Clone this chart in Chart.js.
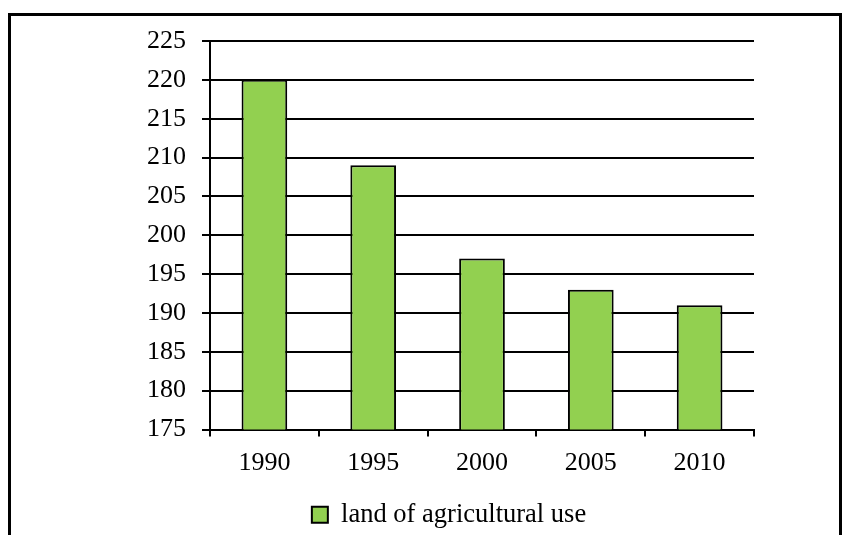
<!DOCTYPE html>
<html>
<head>
<meta charset="utf-8">
<script src="https://cdn.jsdelivr.net/npm/chart.js@4"></script>
<style>
  html, body { margin: 0; padding: 0; background: #fff; }
  #frame { position: absolute; left: 8px; top: 13px; width: 828px; height: 600px; border: 3px solid #000; }
  #wrap { position: absolute; left: 0; top: 0; width: 842px; height: 535px; }
</style>
</head>
<body>
<div id="frame"></div>
<div id="wrap"><canvas id="grafica"></canvas></div>
<script>
const years = ['1990', '1995', '2000', '2005', '2010'];
const landUse = [220, 209, 197, 193, 191];
const seriesName = 'land of agricultural use';

const fuente = { family: 'Liberation Serif, DejaVu Serif', size: 26 };
const fuenteLeyenda = { family: 'Liberation Serif, DejaVu Serif', size: 26.5 };

new Chart(document.getElementById('grafica').getContext('2d'), {
    type: 'bar',
    data: {
        labels: years,
        datasets: [{
            label: seriesName,
            data: landUse,
            backgroundColor: '#92D050',
            borderColor: '#000',
            borderWidth: 2,
            borderSkipped: false,
            barPercentage: 0.42,
            categoryPercentage: 1
        }]
    },
    options: {
        responsive: true,
        maintainAspectRatio: false,
        animation: false,
        layout: { padding: { left: 144, right: 88, top: 41, bottom: -3 } },
        plugins: {
            tooltip: { enabled: false },
            legend: {
                position: 'bottom',
                labels: { font: fuenteLeyenda, color: '#000', boxWidth: 16, boxHeight: 16, padding: 12 }
            }
        },
        scales: {
            x: {
                offset: true,
                grid: { offset: true, drawOnChartArea: false, drawTicks: true, tickLength: 7, color: '#000', lineWidth: 2 },
                border: { color: '#000', width: 2 },
                ticks: { font: fuente, color: '#000', padding: 11 },
                afterFit: (s) => { s.height = 60; }
            },
            y: {
                min: 175,
                max: 225,
                grid: { color: '#000', lineWidth: 2, tickLength: 8 },
                border: { color: '#000', width: 2 },
                ticks: { stepSize: 5, font: fuente, color: '#000', padding: 16 },
                afterFit: (s) => { s.width = 66; }
            }
        }
    }
});
</script>
</body>
</html>
